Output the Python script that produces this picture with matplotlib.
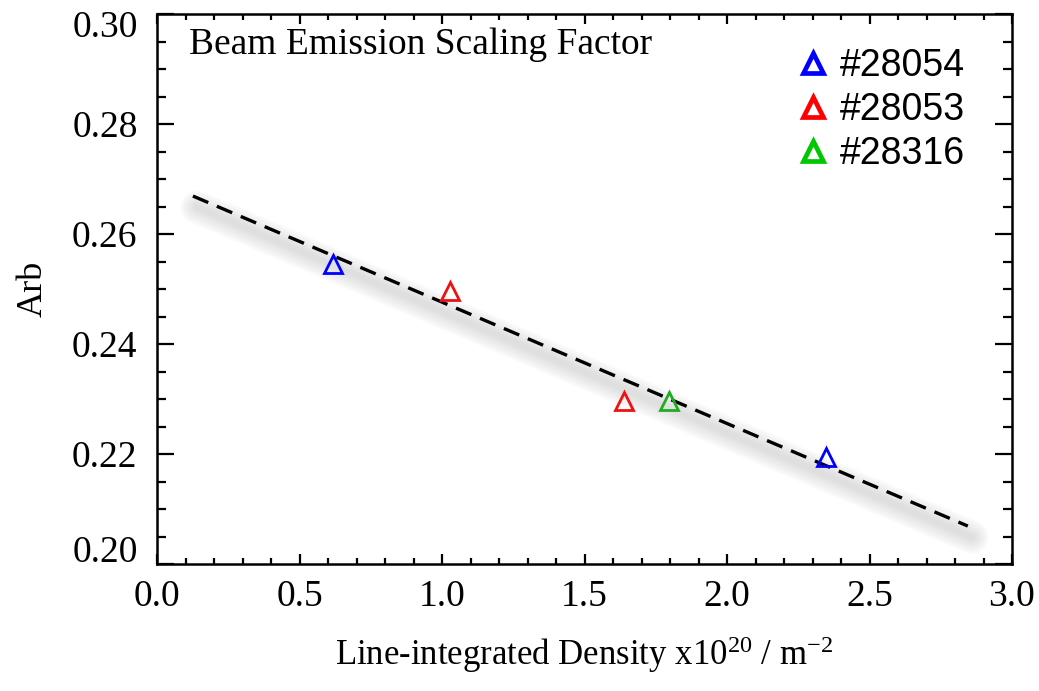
import matplotlib
matplotlib.use("Agg")
import matplotlib.pyplot as plt
import matplotlib.transforms as mtransforms
from matplotlib.lines import Line2D
import numpy as np

# ---- data ----
shot_labels = ["#28054", "#28053", "#28316"]
shot_colors = ["#0000ff", "#ee1111", "#22aa22"]
legend_colors = ["#0000ff", "#ff0000", "#00c800"]
x_28054 = [0.616, 2.346]
y_28054 = [0.2546, 0.2195]
x_28053 = [1.027, 1.639]
y_28053 = [0.2497, 0.2297]
x_28316 = [1.797]
y_28316 = [0.2297]
fit_x = [0.126, 2.845]
fit_y = [0.2669, 0.2069]
x_ticks = [0.0, 0.5, 1.0, 1.5, 2.0, 2.5, 3.0]
y_ticks = [0.20, 0.22, 0.24, 0.26, 0.28, 0.30]

plt.rcParams['font.family'] = ['Liberation Serif', 'DejaVu Serif']
plt.rcParams['mathtext.fontset'] = 'custom'
plt.rcParams['mathtext.rm'] = 'Liberation Serif'
plt.rcParams['mathtext.it'] = 'Liberation Serif:italic'

fig = plt.figure(figsize=(10.39, 6.91), dpi=100)
ax = fig.add_axes([157/1039, 1-564/691, (1012-157)/1039, (564-14)/691])

# soft shadow under the fit line
for w in np.linspace(24, 4, 10):
    off = mtransforms.ScaledTranslation(3/72, -8/72, fig.dpi_scale_trans)
    ax.plot(fit_x, fit_y, color='0.6', lw=w, alpha=0.033, solid_capstyle='round',
            transform=ax.transData + off, zorder=1)

ax.plot(fit_x, fit_y, color='black', lw=2.4, linestyle=(0, (5.0, 2.8)), zorder=2)

for xs, ys, c in [(x_28054, y_28054, shot_colors[0]),
                  (x_28053, y_28053, shot_colors[1]),
                  (x_28316, y_28316, shot_colors[2])]:
    ax.plot(xs, ys, linestyle='none', marker='^', markersize=12.5, markerfacecolor='none',
            markeredgecolor=c, markeredgewidth=2.0, zorder=3)

ax.set_xlim(0, 3.0)
ax.set_ylim(0.20, 0.30)
ax.set_xticks(x_ticks)
ax.set_xticklabels([f"{v:.1f}" for v in x_ticks])
ax.set_yticks(y_ticks)
ax.set_yticklabels([f"{v:.2f}" for v in y_ticks])
ax.set_xticks(np.arange(0, 3.0001, 0.1), minor=True)
ax.set_yticks(np.arange(0.20, 0.30001, 0.005), minor=True)

ax.tick_params(axis='x', which='major', direction='in', length=7.5, width=1.6,
               top=True, labelsize=27, pad=11)
ax.tick_params(axis='x', which='minor', direction='in', length=4, width=1.6, top=True)
ax.tick_params(axis='y', which='major', direction='in', length=12, width=1.6,
               right=True, labelsize=27, pad=14)
ax.tick_params(axis='y', which='minor', direction='in', length=6.5, width=1.6, right=True)
for s in ax.spines.values():
    s.set_linewidth(1.8)

# nudge the end labels inward as in the original
ylabels = ax.yaxis.get_majorticklabels()
ylabels[0].set_transform(ylabels[0].get_transform() +
                         mtransforms.ScaledTranslation(0, 11/72, fig.dpi_scale_trans))
ylabels[-1].set_transform(ylabels[-1].get_transform() +
                          mtransforms.ScaledTranslation(0, -7/72, fig.dpi_scale_trans))

ax.set_xlabel(r"Line-integrated Density x10$^{20}$ / m$^{-2}$", fontsize=25, labelpad=15)
ax.set_ylabel("Arb", fontsize=26, labelpad=16)

ax.text(0.037, 0.945, "Beam Emission Scaling Factor", transform=ax.transAxes,
        fontsize=27, ha='left', va='center')

handles = [Line2D([], [], linestyle='none', marker='^', markersize=15,
                  markerfacecolor='none', markeredgecolor=c, markeredgewidth=3.4)
           for c in legend_colors]
leg = ax.legend(handles, shot_labels, loc='upper right', bbox_to_anchor=(0.984, 1.0),
                frameon=False, handlelength=0.8, handletextpad=0.3, labelspacing=0.22,
                prop={'family': ['Liberation Sans', 'DejaVu Sans'], 'size': 27})

fig.savefig("out.png", dpi=100)
